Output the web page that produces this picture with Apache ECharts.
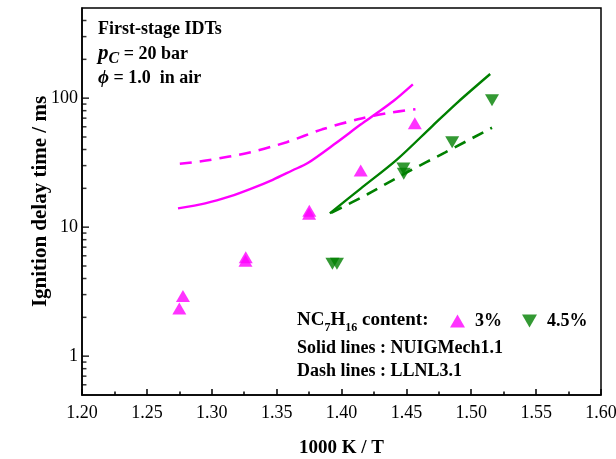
<!DOCTYPE html>
<html>
<head>
<meta charset="utf-8">
<script src="https://cdn.jsdelivr.net/npm/echarts@6/dist/echarts.min.js"></script>
<style>html,body{margin:0;padding:0;background:#fff}#c{width:616px;height:459px}</style>
</head>
<body>
<div id="c"></div>
<script>
// ---- data ----
var exp3X = [1.2750, 1.2778, 1.3260, 1.3262, 1.3750, 1.3752, 1.4148, 1.4565];
var exp3Y = [2.34, 2.93, 5.50, 5.85, 12.7, 13.4, 27.5, 64.0];
var exp45X = [1.3930, 1.3965, 1.4477, 1.4480, 1.4853, 1.5160];
var exp45Y = [5.2, 5.2, 28.5, 26.0, 45.6, 96.5];

var nuig3X = [1.274, 1.295, 1.314, 1.330, 1.347, 1.362, 1.374, 1.396, 1.415, 1.426, 1.440, 1.455];
var nuig3Y = [14.0, 15.3, 17.3, 19.8, 23.3, 27.5, 31.4, 45.1, 62.7, 75.0, 95.0, 128.0];
var llnl3X = [1.2754, 1.297, 1.330, 1.3577, 1.3851, 1.4126, 1.4345, 1.457];
var llnl3Y = [31.0, 33.0, 38.1, 45.6, 57.3, 68.5, 76.4, 82.0];

var nuig45X = [1.391, 1.415, 1.4427, 1.470, 1.4893, 1.5146];
var nuig45Y = [12.8, 20.0, 33.4, 60.8, 92.5, 154.0];
var llnl45X = [1.392, 1.420, 1.450, 1.480, 1.516];
var llnl45Y = [12.9, 18.0, 26.5, 38.0, 59.0];

var yMajorTicks = [1, 10, 100];
var yMinorTicks = [0.6, 0.7, 0.8, 0.9, 2, 3, 4, 5, 6, 7, 8, 9, 20, 30, 40, 50, 60, 70, 80, 90, 200, 300, 400];
var xMin = 1.2;

function zip(xs, ys) { return xs.map(function (x, i) { return [x, ys[i]]; }); }

var MAG = '#FF00FF', GRN = '#008000';
var FONT = '"Liberation Serif", "Times New Roman", serif';
var downTri = 'path://M0,0 L10,0 L5,8.6 Z';

var chart = echarts.init(document.getElementById('c'), null, { renderer: 'canvas' });
chart.setOption({
  animation: false,
  backgroundColor: '#fff',
  grid: { left: 82, right: 15, top: 8, bottom: 64, show: true, borderColor: '#000', borderWidth: 1.5, containLabel: false, outerBoundsMode: 'none' },
  xAxis: {
    type: 'value', min: 1.2, max: 1.6, interval: 0.05,
    name: '1000 K / T', nameLocation: 'middle', nameGap: 44, nameMoveOverlap: false,
    nameTextStyle: { fontFamily: FONT, fontWeight: 'bold', fontSize: 19, color: '#000' },
    axisLine: { lineStyle: { color: '#000', width: 1.5 } },
    axisTick: { inside: true, length: 6, lineStyle: { color: '#000', width: 1.5 } },
    minorTick: { show: true, splitNumber: 2, length: 3.5, lineStyle: { color: '#000', width: 1.5 } },
    axisLabel: { fontFamily: FONT, fontSize: 18, color: '#000', margin: 9, formatter: function (v) { return v.toFixed(2); } },
    splitLine: { show: false }
  },
  yAxis: {
    type: 'log', min: 0.5, max: 500, logBase: 10,
    name: 'Ignition delay time / ms', nameLocation: 'middle', nameGap: 31, nameMoveOverlap: false,
    nameTextStyle: { fontFamily: FONT, fontWeight: 'bold', fontSize: 21, color: '#000' },
    axisLine: { lineStyle: { color: '#000', width: 1.5 } },
    axisTick: { show: false },
    axisLabel: { fontFamily: FONT, fontSize: 18, color: '#000', margin: 4, showMinLabel: false, showMaxLabel: false },
    splitLine: { show: false }
  },
  legend: {
    left: 445, top: 307, itemWidth: 15, itemHeight: 13, itemGap: 20,
    textStyle: { fontFamily: FONT, fontWeight: 'bold', fontSize: 18, color: '#000', padding: [0, 0, 0, 5] },
    data: [{ name: '3%', icon: 'triangle' }, { name: '4.5%', icon: downTri }]
  },
  graphic: [
    { type: 'text', left: 98, top: 20, style: { text: 'First-stage IDTs', font: 'bold 18px ' + FONT, fill: '#000' } },
    { type: 'text', left: 98, top: 42, style: {
      text: '{i|p}{s|C}{b| = 20 bar}', fill: '#000',
      rich: {
        i: { font: 'italic bold 21px ' + FONT, lineHeight: 26, verticalAlign: 'middle' },
        s: { font: 'italic bold 16px ' + FONT, lineHeight: 26, verticalAlign: 'bottom', padding: [9, 0, 0, 0] },
        b: { font: 'bold 18px ' + FONT, lineHeight: 26, verticalAlign: 'middle' }
      } } },
    { type: 'text', left: 98, top: 69, style: {
      text: '{i|\u03D5}{b| = 1.0  in air}', fill: '#000',
      rich: {
        i: { font: 'italic bold 19px ' + FONT, lineHeight: 24, verticalAlign: 'middle' },
        b: { font: 'bold 18px ' + FONT, lineHeight: 24, verticalAlign: 'middle' }
      } } },
    { type: 'text', left: 297, top: 311, style: {
      text: '{b|NC}{s|7}{b|H}{s|16}{b| content:}', fill: '#000',
      rich: {
        b: { font: 'bold 19px ' + FONT, lineHeight: 26, verticalAlign: 'middle' },
        s: { font: 'bold 12px ' + FONT, lineHeight: 26, verticalAlign: 'bottom', padding: [9, 0, 0, 0] }
      } } },
    { type: 'text', left: 297, top: 339, style: { text: 'Solid lines : NUIGMech1.1', font: 'bold 18px ' + FONT, fill: '#000' } },
    { type: 'text', left: 297, top: 362, style: { text: 'Dash lines : LLNL3.1', font: 'bold 18px ' + FONT, fill: '#000' } }
  ],
  series: [
    { name: 'yMajorTicks', type: 'scatter', data: yMajorTicks.map(function (v) { return [xMin, v]; }), symbol: 'rect', symbolSize: [7, 1.6], symbolOffset: [3.5, 0], itemStyle: { color: '#000' }, silent: true, clip: false, z: 5 },
    { name: 'yMinorTicks', type: 'scatter', data: yMinorTicks.map(function (v) { return [xMin, v]; }), symbol: 'rect', symbolSize: [4.5, 1.5], symbolOffset: [2.2, 0], itemStyle: { color: '#000' }, silent: true, clip: false, z: 5 },
    { name: 'NUIG 3%', type: 'line', data: zip(nuig3X, nuig3Y), smooth: 0.3, showSymbol: false, lineStyle: { color: MAG, width: 2.4 }, itemStyle: { color: MAG }, z: 2 },
    { name: 'LLNL 3%', type: 'line', data: zip(llnl3X, llnl3Y), smooth: 0.3, showSymbol: false, lineStyle: { color: MAG, width: 2.6, type: [12, 8] }, itemStyle: { color: MAG }, z: 2 },
    { name: 'NUIG 4.5%', type: 'line', data: zip(nuig45X, nuig45Y), smooth: 0.3, showSymbol: false, lineStyle: { color: GRN, width: 2.4 }, itemStyle: { color: GRN }, z: 2 },
    { name: 'LLNL 4.5%', type: 'line', data: zip(llnl45X, llnl45Y), smooth: 0.3, showSymbol: false, lineStyle: { color: GRN, width: 2.6, type: [12, 8] }, itemStyle: { color: GRN }, z: 2 },
    { name: '3%', type: 'scatter', data: zip(exp3X, exp3Y), symbol: 'triangle', symbolSize: [14, 12], itemStyle: { color: MAG }, z: 3 },
    { name: '4.5%', type: 'scatter', data: zip(exp45X, exp45Y), symbol: downTri, symbolSize: [14, 12], itemStyle: { color: GRN }, z: 3 }
  ]
});
</script>
</body>
</html>
